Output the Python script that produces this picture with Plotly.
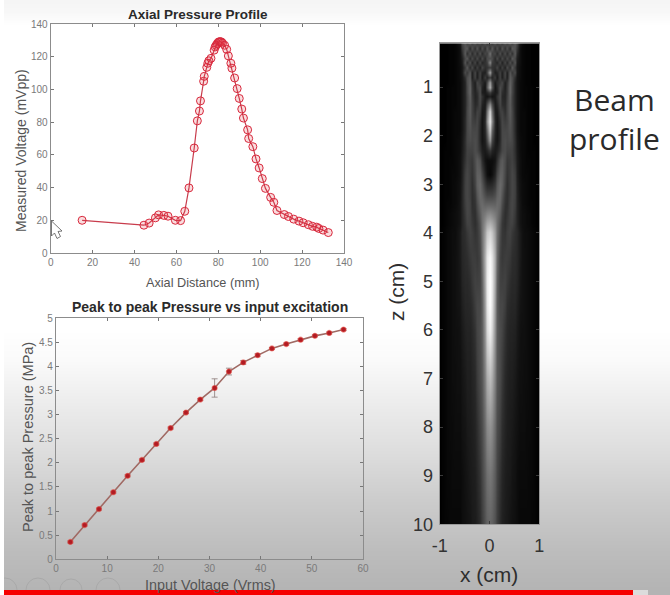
import plotly.graph_objects as go

W, H = 670, 595

# Axial Pressure Profile
axial_distance = [15, 44.5, 47, 50, 51.5, 54, 56, 59.5, 62, 64, 66, 68.5, 70, 71, 71.5, 73, 73.3, 74.5, 75, 75.5,
                  76.5, 78, 78.5, 79, 79.5, 80, 80.5, 81, 81.5, 82, 83, 84, 84.8, 86, 86.5, 87.8, 89, 90, 91.2, 92,
                  94, 94.5, 96.5, 98, 99.5, 101, 102.5, 105, 106.5, 108, 111.5, 113.5, 116, 118.5, 120.5, 123, 125,
                  127, 128, 130, 132.5]
measured_voltage = [20, 17, 18.3, 21.5, 23.3, 23, 22.5, 20, 19.8, 25.5, 39.8, 64.2, 80.8, 86.8, 93, 105, 108, 113.5,
                    116, 117.5, 119, 124, 126, 127, 128, 128.8, 129.2, 129.2, 129, 128.3, 127, 124.5, 120.5, 116,
                    113, 107, 100.5, 94.5, 88, 82.5, 75.3, 70, 65, 57.5, 52, 45.5, 39.5, 34, 31, 26, 23.5, 22.3,
                    20.7, 19.5, 18.5, 17.3, 16.3, 15.8, 15, 14, 12.5]

# Peak to peak pressure vs input excitation
input_voltage = [2.8, 5.6, 8.4, 11.2, 14, 16.8, 19.6, 22.4, 25.4, 28.2, 31, 33.8, 36.6, 39.4, 42.2, 45, 47.8, 50.6,
                 53.4, 56.2]
peak_pressure = [0.36, 0.71, 1.04, 1.39, 1.73, 2.06, 2.39, 2.72, 3.04, 3.31, 3.55, 3.89, 4.08, 4.23, 4.37, 4.46,
                 4.55, 4.63, 4.69, 4.76]
pressure_err = [0.02, 0.02, 0.02, 0.02, 0.02, 0.02, 0.02, 0.02, 0.02, 0.02, 0.19, 0.07, 0.04, 0.03, 0.02, 0.02,
                0.02, 0.02, 0.02, 0.02]

# Beam profile: brightness (percent) read for x = 0 .. 1 cm in 0.05 cm steps, per depth z
beam_x_half = [0, .05, .10, .15, .20, .25, .30, .35, .40, .45, .50, .55, .60, .65, .70, .75, .80, .85, .90, .95, 1.0]
beam_z = [0.1, 0.2, 0.3, 0.4, 0.5, 0.6, 0.7, 0.8, 0.9, 1.0, 1.1, 1.2, 1.35, 1.5, 1.7, 1.9, 2.1, 2.3, 2.5, 2.8, 3.0,
          3.2, 3.4, 3.6, 3.8, 4.0, 4.5, 5, 5.5, 6, 7, 8, 9, 10]
beam_half = [
    [30, 22, 32, 22, 30, 22, 32, 24, 34, 26, 34, 26, 8, 4, 2, 1, 1, 0, 0, 0, 0],
    [20, 36, 18, 32, 16, 34, 18, 32, 16, 36, 32, 22, 6, 3, 2, 1, 1, 0, 0, 0, 0],
    [45, 24, 28, 16, 32, 16, 30, 16, 32, 18, 36, 16, 6, 3, 2, 1, 1, 0, 0, 0, 0],
    [30, 30, 16, 30, 14, 30, 16, 30, 16, 36, 28, 12, 6, 3, 2, 1, 1, 0, 0, 0, 0],
    [55, 24, 20, 14, 28, 12, 28, 14, 32, 18, 34, 10, 6, 3, 2, 1, 1, 0, 0, 0, 0],
    [24, 20, 18, 28, 12, 26, 12, 30, 16, 36, 22, 9, 5, 3, 2, 1, 1, 0, 0, 0, 0],
    [65, 26, 12, 14, 26, 12, 28, 12, 34, 22, 30, 9, 5, 3, 2, 1, 1, 0, 0, 0, 0],
    [24, 14, 24, 10, 26, 12, 26, 12, 36, 30, 18, 8, 5, 3, 2, 1, 1, 0, 0, 0, 0],
    [62, 28, 10, 18, 22, 28, 12, 20, 38, 30, 14, 8, 4, 3, 2, 1, 1, 0, 0, 0, 0],
    [70, 34, 8, 14, 30, 24, 12, 22, 40, 28, 14, 8, 4, 3, 2, 2, 1, 1, 0, 0, 0],
    [25, 15, 10, 12, 30, 18, 14, 22, 40, 28, 14, 8, 4, 3, 2, 2, 1, 1, 0, 0, 0],
    [12, 8, 10, 20, 30, 16, 14, 24, 38, 26, 14, 8, 4, 3, 2, 2, 1, 1, 0, 0, 0],
    [55, 30, 10, 14, 28, 18, 16, 26, 36, 26, 14, 8, 4, 3, 2, 2, 1, 1, 0, 0, 0],
    [85, 45, 12, 10, 24, 26, 18, 26, 36, 28, 14, 8, 4, 3, 3, 2, 1, 1, 0, 0, 0],
    [92, 55, 16, 8, 18, 28, 24, 26, 34, 28, 16, 8, 4, 3, 3, 2, 1, 1, 0, 0, 0],
    [80, 40, 15, 8, 16, 28, 28, 28, 32, 28, 16, 8, 4, 3, 3, 2, 1, 1, 0, 0, 0],
    [60, 28, 12, 8, 16, 28, 30, 28, 30, 28, 18, 9, 5, 4, 3, 2, 1, 1, 0, 0, 0],
    [22, 14, 10, 12, 20, 28, 30, 26, 26, 26, 18, 10, 5, 4, 3, 2, 1, 1, 1, 0, 0],
    [5, 5, 8, 18, 32, 36, 30, 22, 24, 26, 20, 11, 6, 4, 3, 2, 2, 1, 1, 0, 0],
    [3, 6, 14, 28, 38, 38, 28, 20, 24, 28, 24, 12, 6, 4, 3, 3, 2, 1, 1, 0, 0],
    [15, 16, 22, 34, 42, 38, 26, 18, 24, 28, 25, 13, 7, 5, 4, 3, 2, 1, 1, 0, 0],
    [26, 26, 30, 38, 42, 34, 22, 18, 24, 28, 25, 14, 7, 5, 4, 3, 2, 1, 1, 0, 0],
    [38, 38, 38, 42, 40, 30, 20, 18, 26, 28, 24, 14, 8, 5, 4, 3, 2, 2, 1, 0, 0],
    [54, 52, 48, 44, 36, 26, 18, 20, 26, 28, 22, 14, 8, 6, 5, 4, 3, 2, 1, 0, 0],
    [70, 66, 56, 44, 32, 22, 18, 22, 26, 26, 20, 14, 8, 6, 5, 4, 3, 2, 1, 0, 0],
    [84, 78, 62, 44, 30, 22, 20, 24, 26, 22, 18, 16, 10, 7, 5, 5, 4, 3, 2, 1, 0],
    [98, 90, 68, 42, 26, 22, 24, 24, 22, 18, 17, 15, 10, 7, 6, 5, 4, 3, 2, 1, 0],
    [100, 92, 66, 38, 26, 25, 26, 22, 18, 16, 16, 14, 9, 7, 6, 5, 4, 3, 2, 1, 0],
    [100, 90, 62, 36, 28, 28, 24, 18, 16, 15, 15, 12, 8, 7, 6, 5, 4, 3, 2, 1, 0],
    [95, 85, 58, 36, 30, 27, 20, 16, 14, 14, 13, 10, 7, 6, 6, 5, 4, 3, 2, 1, 0],
    [75, 68, 50, 34, 29, 23, 16, 14, 12, 12, 10, 8, 6, 6, 5, 5, 4, 3, 2, 1, 0],
    [58, 54, 42, 30, 25, 18, 14, 12, 11, 10, 8, 7, 5, 5, 5, 4, 4, 3, 2, 1, 0],
    [47, 44, 36, 27, 20, 15, 12, 11, 10, 8, 7, 5, 4, 4, 4, 4, 3, 3, 2, 1, 0],
    [40, 38, 32, 24, 17, 13, 11, 10, 8, 7, 6, 5, 3, 3, 3, 3, 3, 2, 2, 1, 0],
]
beam_x = [-v for v in beam_x_half[:0:-1]] + beam_x_half
beam_rows = [row[:0:-1] + row for row in beam_half]
beam_xticks = [-1, 0, 1]
beam_xlabels = ["-1", "0", "1"]
beam_zticks = [1, 2, 3, 4, 5, 6, 7, 8, 9, 10]

# Video-frame shading, top to bottom (pixel row, gray level percent)
shade_rows = [0, 12, 25, 330, 360, 400, 450, 500, 550, 595]
shade_levels = [96, 97, 100, 100, 98, 93, 87, 80, 74, 70]

SANS = "Liberation Sans"

fig = go.Figure()

fig.add_trace(go.Heatmap(x=[0, W], y=shade_rows, z=[[v, v] for v in shade_levels], xaxis="x", yaxis="y",
                         colorscale=[[0, "#000000"], [1, "#ffffff"]], zmin=0, zmax=100, zsmooth="best",
                         showscale=False, hoverinfo="skip"))
fig.add_trace(go.Scatter(x=axial_distance, y=measured_voltage, xaxis="x2", yaxis="y2", mode="lines+markers",
                         line=dict(color="#c83c4c", width=1.2),
                         marker=dict(symbol="circle", size=8, color="rgba(230,60,70,0.18)",
                                     line=dict(color="#d8283c", width=1)),
                         showlegend=False))
fig.add_trace(go.Scatter(x=input_voltage, y=peak_pressure, xaxis="x3", yaxis="y3", mode="lines+markers",
                         error_y=dict(type="data", array=pressure_err, color="#8a7a78", thickness=0.8, width=3),
                         line=dict(color="#a06a64", width=1.6),
                         marker=dict(symbol="circle", size=5, color="#b01c24",
                                     line=dict(color="rgba(230,70,60,0.55)", width=1.2)),
                         showlegend=False))
fig.add_trace(go.Heatmap(x=beam_x, y=beam_z, z=beam_rows, xaxis="x4", yaxis="y4",
                         colorscale=[[0, "#000000"], [1, "#ffffff"]], zmin=0, zmax=100, zsmooth="best",
                         showscale=False))


def dom_x(a, b):
    return [a / W, b / W]


def dom_y(top, bottom):
    return [1 - bottom / H, 1 - top / H]


def small_axis(domain, rng, dtick):
    return dict(domain=domain, range=rng, dtick=dtick, ticks="inside", ticklen=3, tickwidth=0.8, tickcolor="#777777",
                mirror="allticks", showline=True, linecolor="#8c8c8c", linewidth=1.2, showgrid=False, zeroline=False,
                tickfont=dict(family=SANS, size=10, color="#7a7a7a"))


def big_axis(domain, rng, tickvals, ticktext, standoff):
    return dict(domain=domain, range=rng, tickvals=tickvals, ticktext=ticktext, ticks="inside", ticklen=3,
                tickwidth=0.8, tickcolor="#3a3a3a", mirror="allticks", showline=True, linecolor="#9a9a9a",
                linewidth=1, showgrid=False, zeroline=False, ticklabelstandoff=standoff,
                tickfont=dict(family=SANS, size=18, color="#333333"))


def label(text, x, y, size, color, angle=0, family=SANS):
    return dict(text=text, x=x, y=y, xref="x", yref="y", showarrow=False, textangle=angle,
                font=dict(family=family, size=size, color=color))


fig.update_layout(
    width=W, height=H, margin=dict(l=0, r=0, t=0, b=0, autoexpand=False), paper_bgcolor="#ffffff",
    plot_bgcolor="rgba(0,0,0,0)", showlegend=False,
    xaxis=dict(domain=[0, 1], range=[0, W], visible=False, fixedrange=True),
    yaxis=dict(domain=[0, 1], range=[H, 0], visible=False, fixedrange=True),
    xaxis2={**small_axis(dom_x(50.7, 344), [0, 140], 20), "anchor": "y2"},
    yaxis2={**small_axis(dom_y(24, 253), [0, 140], 20), "anchor": "x2"},
    xaxis3={**small_axis(dom_x(56, 363), [0, 60], 10), "anchor": "y3"},
    yaxis3={**small_axis(dom_y(318, 559.3), [0, 5], 0.5), "anchor": "x3"},
    xaxis4={**big_axis(dom_x(439.7, 539.3), [-1, 1], beam_xticks, beam_xlabels, 5), "anchor": "y4"},
    yaxis4={**big_axis(dom_y(43.3, 524.3), [10, 0.1], beam_zticks, [str(v) for v in beam_zticks], 2), "anchor": "x4"},
    annotations=[
        label("<b>Axial Pressure Profile</b>", 197.5, 14, 13.5, "#2a2a2a"),
        label("<b>Peak to peak Pressure vs input excitation</b>", 210, 306.5, 14, "#2a2a2a"),
        label("Axial Distance (mm)", 203, 283, 12.7, "#555555"),
        label("Measured Voltage (mVpp)", 21, 151, 14, "#555555", -90),
        label("Input Voltage (Vrms)", 210, 585, 14.4, "#555555"),
        label("Peak to peak Pressure (MPa)", 28, 437, 14.5, "#555555", -90),
        label("x (cm)", 489, 574, 21, "#2e2e2e"),
        label("z (cm)", 396, 292, 21, "#2e2e2e", -90),
        label("Beam<br>profile", 614.5, 118.5, 30, "#2a2a2a", family="Open Sans"),
    ],
    shapes=[
        # faint player buttons
        *[dict(type="circle", xref="x", yref="y", x0=c - r, x1=c + r, y0=590 - r, y1=590 + r,
               fillcolor="rgba(0,0,0,0)", line=dict(color="#a9a9a9", width=1))
          for c, r in [(5, 12), (38, 12), (71, 11), (108, 12)]],
        # left white strip of the frame
        dict(type="rect", xref="x", yref="y", x0=0, x1=4, y0=0, y1=H, fillcolor="#ffffff", line_width=0),
        # video progress bar
        dict(type="rect", xref="x", yref="y", x0=648, x1=W, y0=590, y1=H, fillcolor="#b4b4b4", line_width=0),
        dict(type="rect", xref="x", yref="y", x0=4, x1=633, y0=590, y1=H, fillcolor="#f60000", line_width=0),
        dict(type="rect", xref="x", yref="y", x0=633, x1=648, y0=590, y1=H, fillcolor="#dcdcdc", line_width=0),
        # mouse pointer
        dict(type="path", xref="x", yref="y",
             path="M 51.5 221 L 51.5 236 L 54.5 233 L 57 238.5 L 60.5 236.5 L 58 231.5 L 62 231 Z",
             fillcolor="#ffffff", line=dict(color="#555555", width=0.8)),
    ],
)

fig.write_html("out.html", config={"displayModeBar": False}, post_script="document.body.style.margin='0';")
